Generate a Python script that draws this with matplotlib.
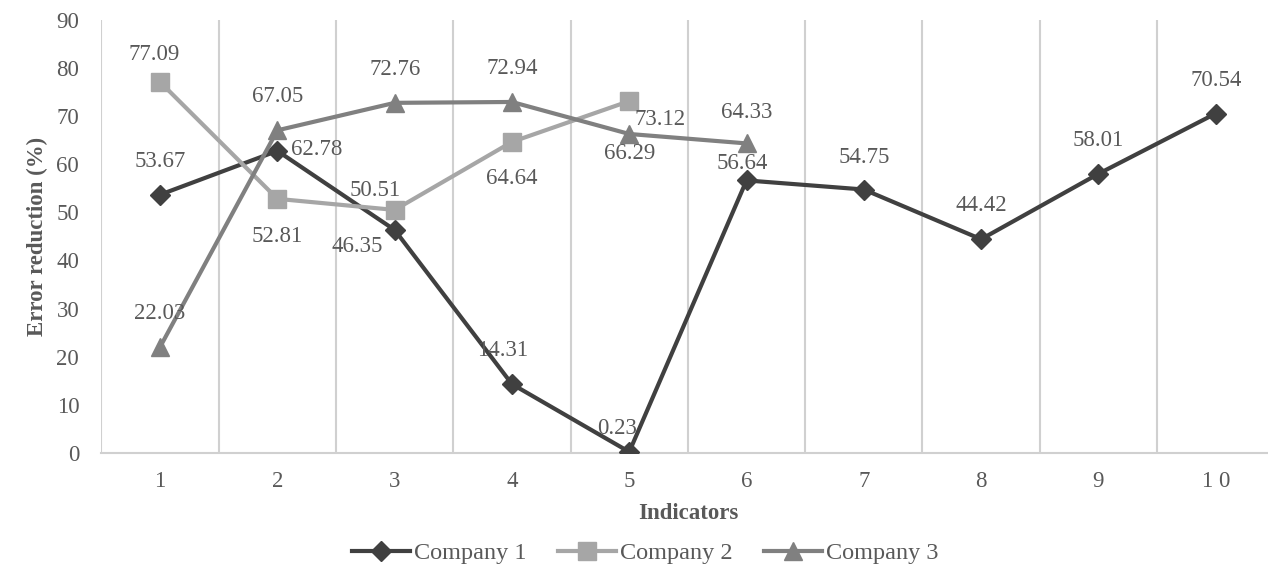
import matplotlib
matplotlib.use("Agg")
import matplotlib.pyplot as plt

plt.rcParams['font.family'] = ['Liberation Serif', 'DejaVu Serif']

indicators = [1, 2, 3, 4, 5, 6, 7, 8, 9, 10]
tick_labels = ['1', '2', '3', '4', '5', '6', '7', '8', '9', '1 0']
company1 = [53.67, 62.78, 46.35, 14.31, 0.23, 56.64, 54.75, 44.42, 58.01, 70.54]
company2 = [77.09, 52.81, 50.51, 64.64, 73.12]
company3 = [22.03, 67.05, 72.76, 72.94, 66.29, 64.33]

# label offsets (points) per series
off1 = [(0, 24), (28, 1), (-27, -12), (-7, 24), (-9, 17), (-3, 12), (0, 23), (0, 24), (0, 24), (0, 24)]
off2 = [(-4, 20), (0, -27), (-14, 14), (0, -26), (22, -13)]
off3 = [(0, 24), (0, 24), (0, 24), (0, 24), (0, -14), (0, 22)]

c1, c2, c3 = '#404040', '#a6a6a6', '#808080'
txt = '#595959'
fs = 16.5

fig = plt.figure(figsize=(12.68, 5.68), dpi=100)
ax = fig.add_axes([0.080, 0.2025, 0.925, 0.7625])

ax.plot(indicators, company1, color=c1, lw=3, marker='D', ms=10, label='Company 1', zorder=3)
ax.plot(indicators[:len(company2)], company2, color=c2, lw=3, marker='s', ms=12.5, label='Company 2', zorder=3)
ax.plot(indicators[:len(company3)], company3, color=c3, lw=3, marker='^', ms=12.5, label='Company 3', zorder=3)

for xs, ys, offs in [(indicators, company1, off1), (indicators, company2, off2), (indicators, company3, off3)]:
    for x, y, o in zip(xs, ys, offs):
        ax.annotate(f'{y:.2f}', (x, y), xytext=o, textcoords='offset points',
                    ha='center', va='center', fontsize=fs, color=txt, zorder=4)

ax.set_xlim(0.5, 10.5)
ax.set_ylim(0, 90)
ax.set_yticks(range(0, 91, 10))
ax.set_xticks(indicators)
ax.set_xticklabels(tick_labels)
for gx in [i + 0.5 for i in range(0, 10)]:
    ax.axvline(gx, color='#d0d0d0', lw=1.5, zorder=1)
for s in ['top', 'right', 'left']:
    ax.spines[s].set_visible(False)
ax.spines['bottom'].set_color('#d0d0d0')
ax.spines['bottom'].set_linewidth(1.5)
ax.tick_params(axis='both', length=0, labelsize=fs, colors=txt)
ax.tick_params(axis='x', pad=13)
ax.tick_params(axis='y', pad=16)

ax.set_ylabel('Error reduction (%)', fontsize=fs, fontweight='bold', color=txt, labelpad=6)
ax.set_xlabel('Indicators', fontsize=fs, fontweight='bold', color=txt, labelpad=8)

leg = ax.legend(loc='center', bbox_to_anchor=(0.4635, -0.232), ncol=3, frameon=False,
                fontsize=17.5, handlelength=2.4, handletextpad=0.15, columnspacing=1.3)
for t in leg.get_texts():
    t.set_color(txt)

fig.savefig('out.png', dpi=100)
